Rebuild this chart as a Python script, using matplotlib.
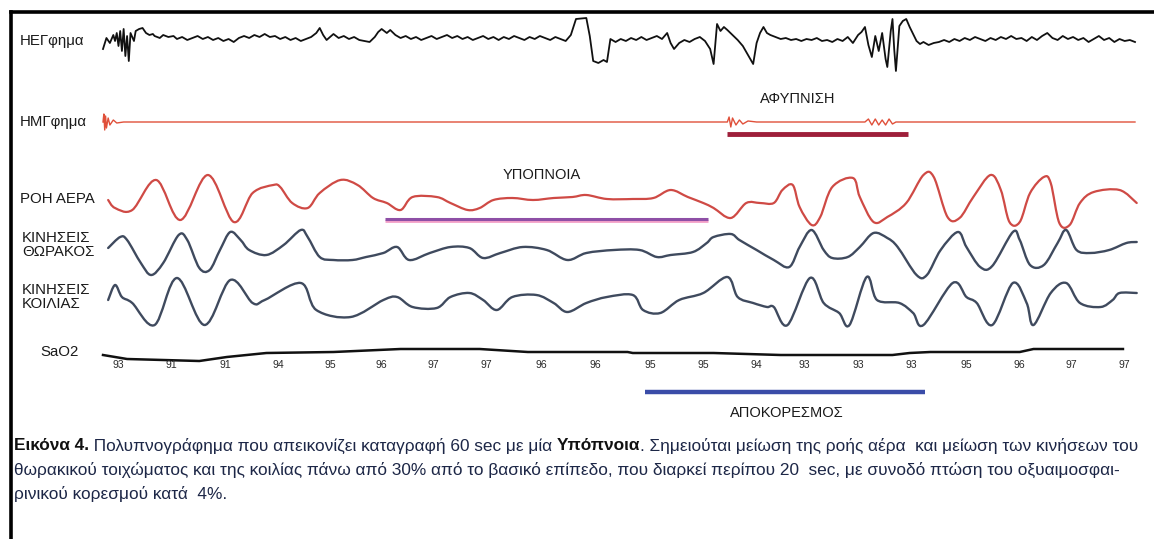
import numpy as np
import matplotlib
matplotlib.use("Agg")
import matplotlib.pyplot as plt
from matplotlib.path import Path
from matplotlib.patches import PathPatch

# ---------------- DATA (time in seconds, amplitude in arbitrary units) ----------------
eeg_t = [0.0, 0.2, 0.4, 0.6, 0.7, 0.8, 0.9, 1.0, 1.1, 1.2, 1.3, 1.4, 1.5, 1.6, 1.8, 1.9, 2.1, 2.3, 2.5, 2.7, 2.9,
         3.0, 3.3, 3.5, 3.8, 4.1, 4.3, 4.6, 4.9, 5.2, 5.5, 5.8, 6.1, 6.4, 6.7, 7.0, 7.3, 7.6, 7.9, 8.2, 8.5, 8.8,
         9.1, 9.4, 9.7, 10.0, 10.3, 10.6, 10.9, 11.2, 11.5, 11.8, 12.1, 12.4, 12.6, 12.8, 13.0, 13.2, 13.4, 13.7,
         14.0, 14.3, 14.6, 14.9, 15.2, 15.5, 15.8, 16.0, 16.2, 16.5, 16.7, 17.0, 17.3, 17.6, 17.9, 18.2, 18.5,
         18.8, 19.1, 19.4, 19.7, 20.0, 20.3, 20.6, 20.9, 21.2, 21.5, 21.8, 22.1, 22.4, 22.7, 23.0, 23.3, 23.6,
         23.9, 24.2, 24.5, 24.8, 25.1, 25.4, 25.7, 26.0, 26.3, 26.6, 26.9, 27.2,
         27.5, 28.1, 28.3, 28.5, 28.8, 29.1, 29.3, 29.5,
         29.8, 30.1, 30.4, 30.7, 31.0, 31.3, 31.6, 31.9, 32.2, 32.5, 32.8, 33.0, 33.2, 33.5, 33.8, 34.1, 34.4,
         34.7, 35.0, 35.3, 35.5, 35.7, 35.9, 36.1, 36.3, 36.6, 36.9, 37.2, 37.5, 37.8, 38.0, 38.2, 38.4, 38.6,
         38.8, 39.1, 39.4, 39.7, 40.0, 40.3, 40.6, 40.9, 41.2, 41.5, 41.8, 42.1, 42.4, 42.7, 43.0, 43.3, 43.6,
         43.9, 44.1, 44.3, 44.5, 44.7, 44.9, 45.1, 45.3, 45.5, 45.6, 45.8, 45.9, 46.0, 46.1, 46.3, 46.5, 46.7,
         46.9, 47.1, 47.3, 47.5, 47.7, 48.0, 48.3, 48.6, 48.9, 49.2, 49.5, 49.8, 50.1, 50.4, 50.7, 51.0, 51.3,
         51.6, 51.9, 52.2, 52.5, 52.8, 53.1, 53.4, 53.7, 54.0, 54.3, 54.6, 54.9, 55.2, 55.5, 55.8, 56.1, 56.4,
         56.7, 57.0, 57.3, 57.6, 57.9, 58.2, 58.5, 58.8, 59.1, 59.4, 59.7, 60.0]
eeg_v = [-8, 3, -2, 6, 0, 8, -5, 10, -10, 12, -15, 5, -20, 8, 0, 10, 12, 13, 8, 6, 7,
         5, 3, 6, 4, 5, 2, 4, 1, 3, 5, 2, 4, 1, 3, 0, 2, -1, 3, 5, 3, 6,
         4, 7, 4, 5, 2, 4, 1, 3, 0, 2, 4, 8, 13, 6, 1, 4, 7, 3,
         5, 2, 4, 1, 0, -1, 4, 9, 12, 8, 11, 6, 3, 5, 2, 4, 1,
         3, 5, 2, 4, 6, 3, 5, 2, 4, 1, 3, 5, 2, 4, 1, 4, 2,
         5, 3, 1, 4, 2, 5, 3, 1, 4, 2, 0, 6,
         22, 23, 5, -20, -22, -19, -21, 2,
         -1, 2, 0, 3, 1, 4, 1, 3, 5, 2, 8, -2, -8, -2, 1, -1, 2,
         4, 0, -8, -23, 17, 10, 14, 11, 6, 1, -5, -14, -23, -2, 8, 14, 8,
         6, 4, 2, 3, 1, 2, 0, 2, 1, 3, 0, 1, -1, 2, 0, 4, -2,
         6, 9, 14, -4, -16, 5, -10, 8, -18, -26, 10, 22, -8, -30, 15, 20, 22,
         14, 7, 0, -3, -1, -4, -2, -1, 1, -1, 2, 0, 3, 1, 4, 2, 0,
         3, 1, 4, 2, 5, 2, 3, 0, 4, 1, 5, 8, 3, 1, 5, 2, 4,
         1, 3, -1, 2, 5, 1, 3, -1, 2, 0, 1, -1]

emg_t = [0.0, 0.05, 0.1, 0.15, 0.2, 0.3, 0.4, 0.6, 0.8, 1.2,
         36.3, 36.4, 36.5, 36.6, 36.8, 37.0, 37.2, 37.5, 38.0,
         44.3, 44.5, 44.7, 44.9, 45.1, 45.3, 45.5, 45.7, 45.9, 46.1, 60.0]
emg_v = [0, 8, -8, 6, -6, 4, -3, 2, -1, 0,
         0, 5, -5, 4, -3, 2, -2, 1, 0,
         0, 3, -3, 3, -3, 2, -3, 3, -2, 0, 0]

flow_t = [0.3, 0.7, 1.7, 3.1, 4.5, 6.1, 7.6, 8.7, 9.9, 10.3, 11.0, 11.9, 12.6, 13.8, 14.8, 15.7, 16.5, 17.3,
          18.0, 19.4, 20.2, 21.2, 21.9, 22.7, 23.8, 25.0, 26.2, 27.3, 28.1, 29.3, 30.8, 32.0, 33.0, 34.0,
          34.9, 35.5, 36.5, 37.4, 38.2, 39.0, 39.5, 40.1, 40.5, 41.2, 41.7, 42.4, 43.6, 44.0, 44.8, 45.6,
          46.7, 47.7, 48.3, 49.1, 49.8, 50.6, 51.6, 52.2, 52.7, 53.3, 53.9, 54.7, 55.1, 55.6, 56.2, 56.8,
          57.6, 59.1, 60.1]
flow_v = [0, -8, -10, 20, -20, 25, -22, 7, 15, 13, -3, -8, 7, 20, 15, 2, -3, -10,
          3, 3, -3, -10, -8, 0, 2, 0, 2, 3, 5, 1, 1, 2, 10, 3,
          -3, -8, -18, -3, -3, -3, 10, 15, -7, -25, -17, 13, 22, 3, -22, -17,
          -3, 25, 23, -17, -18, 3, 25, 10, -22, -22, 7, 23, 17, -23, -25, -3,
          8, 10, -3]

thorax_t = [0.3, 1.0, 1.4, 2.2, 2.8, 3.5, 4.4, 4.9, 5.6, 6.2, 6.8, 7.4, 8.0, 8.5, 9.5, 10.5, 11.5, 11.9,
            12.6, 13.4, 14.5, 15.3, 16.3, 17.1, 17.8, 19.0, 20.2, 21.3, 22.1, 23.1, 24.4, 25.8, 27.0, 28.1,
            29.7, 31.2, 32.2, 33.0, 34.3, 35.1, 35.5, 36.5, 37.0, 38.0, 39.0, 39.9, 40.5, 41.2, 41.9, 42.4,
            43.3, 44.0, 44.8, 45.6, 46.2, 47.3, 47.9, 48.7, 49.7, 50.2, 51.0, 51.7, 52.9, 53.3, 53.9, 54.7,
            55.5, 56.0, 56.6, 57.4, 58.5, 59.5, 60.1]
thorax_v = [2, 13, 10, -13, -25, -13, 15, 10, -18, -20, 0, 18, 10, 0, -5, 5, 20, 13,
            -7, -10, -10, -7, -3, 3, -10, -3, 3, 2, -8, -3, 3, 0, -10, -3,
            0, 0, -7, -5, -2, 7, 13, 16, 10, 0, -10, -17, 3, 20, 0, -8,
            -7, 3, 17, 12, 3, -25, -25, 0, 18, 3, -17, -16, 18, 10, -15, -15,
            7, 20, 0, -3, 0, 7, 8]

abdomen_t = [0.3, 0.7, 1.1, 1.7, 3.0, 4.3, 5.9, 7.4, 8.7, 9.4, 11.5, 12.4, 14.4, 16.3, 17.1, 18.0, 19.4, 20.2,
             21.3, 22.1, 22.9, 23.8, 25.2, 26.2, 27.0, 28.1, 29.3, 30.8, 31.4, 32.4, 33.5, 34.9, 36.3, 36.9,
             37.8, 38.6, 39.0, 39.8, 41.1, 41.9, 42.8, 43.4, 44.4, 45.0, 46.3, 47.1, 47.7, 49.4, 50.2, 50.8,
             51.7, 52.9, 53.7, 54.1, 55.1, 56.0, 56.8, 58.0, 58.7, 59.1, 60.1]
abdomen_v = [0, 15, 3, -3, -25, 22, -25, 20, -3, 0, 17, -10, -17, 0, 3, -7, -8, 3,
             7, 0, -10, 3, 5, -3, -12, -3, 3, 5, -10, -13, 0, 7, 23, 3,
             -3, -7, -7, -25, 22, -3, -13, -25, 23, 0, -3, -13, -25, 17, 3, -3,
             -25, 17, -3, -25, 7, 17, -3, -7, 0, 7, 7]

sao2_t = [0.0, 1.4, 5.6, 7.2, 9.5, 13.4, 17.3, 21.9, 24.7, 30.5, 30.8, 35.5, 39.4, 45.9, 46.9, 48.1, 53.3, 54.1, 59.3]
sao2_v = [0, -4, -6, -2, 2, 3, 6, 6, 3, 3, 2, 2, 0, 0, 2, 3, 3, 6, 6]

sao2_label_t = [0.9, 4.0, 7.1, 10.2, 13.2, 16.2, 19.2, 22.3, 25.5, 28.6, 31.8, 34.9, 38.0, 40.8, 43.9, 47.0,
                50.2, 53.3, 56.3, 59.4]
sao2_labels = ["93", "91", "91", "94", "95", "96", "97", "97", "96", "96", "95", "95", "94", "93", "93", "93",
               "95", "96", "97", "97"]

arousal_span = (36.3, 46.8)
hypopnea_span = (16.4, 35.2)
desat_span = (31.5, 47.8)

channel_labels = ["ΗΕΓφημα", "ΗΜΓφημα", "ΡΟΗ ΑΕΡΑ", "ΚΙΝΗΣΕΙΣ\nΘΩΡΑΚΟΣ", "ΚΙΝΗΣΕΙΣ\nΚΟΙΛΙΑΣ", "SaO2"]
event_labels = ["ΑΦΥΠΝΙΣΗ", "ΥΠΟΠΝΟΙΑ", "ΑΠΟΚΟΡΕΣΜΟΣ"]

caption_lines = [
    [("Εικόνα 4.", "bold", "#111111"),
     (" Πολυπνογράφημα που απεικονίζει καταγραφή 60 sec με μία ", "normal", "#1d2747"),
     ("Υπόπνοια", "bold", "#111111"),
     (". Σημειούται μείωση της ροής αέρα  και μείωση των κινήσεων του", "normal", "#1d2747")],
    [("θωρακικού τοιχώματος και της κοιλίας πάνω από 30% από το βασικό επίπεδο, που διαρκεί περίπου 20  sec, με συνοδό πτώση του οξυαιμοσφαι-", "normal", "#1d2747")],
    [("ρινικού κορεσμού κατά  4%.", "normal", "#1d2747")],
]

# ---------------- LAYOUT ----------------
W, H = 1154, 539
fig = plt.figure(figsize=(W / 100, H / 100), dpi=100)
fig.patch.set_facecolor("white")
PX_PER_S = 17.2
X0 = 103
ax = fig.add_axes([0, 0, 1, 1])
ax.set_xlim(-X0 / PX_PER_S, (W - X0) / PX_PER_S)
ax.set_ylim(H, 0)
ax.axis("off")

FAM = ["Liberation Sans Narrow", "Liberation Sans", "DejaVu Sans"]

def fx(x):
    return x / W

def fy(y):
    return 1 - y / H

# frame
fig.add_artist(plt.Line2D([fx(11.5), fx(11.5)], [0, fy(11.5)], color="black", lw=2.6, solid_capstyle="projecting"))
fig.add_artist(plt.Line2D([fx(11.5), 1], [fy(11.5), fy(11.5)], color="black", lw=2.6, solid_capstyle="projecting"))

base = {"eeg": 41, "emg": 122, "flow": 200, "thorax": 250, "abd": 300, "sao2": 355}

def trace(t, v, b, **kw):
    ax.plot(np.asarray(t), b - np.asarray(v, dtype=float), solid_joinstyle="round", **kw)

def smooth_trace(t, v, b, color, lw):
    # Catmull-Rom style rendering of the read points as cubic Bezier segments
    x = np.asarray(t, dtype=float)
    y = b - np.asarray(v, dtype=float)
    P = np.column_stack([x, y])
    n = len(P)
    verts = [P[0]]
    codes = [Path.MOVETO]
    for i in range(n - 1):
        p0 = P[i - 1] if i > 0 else P[i]
        p1, p2 = P[i], P[i + 1]
        p3 = P[i + 2] if i + 2 < n else P[i + 1]
        c1 = p1 + (p2 - p0) / 6.0
        c2 = p2 - (p3 - p1) / 6.0
        verts += [c1, c2, p2]
        codes += [Path.CURVE4] * 3
    ax.add_patch(PathPatch(Path(verts, codes), fill=False, edgecolor=color, lw=lw,
                           joinstyle="round", capstyle="round"))

trace(eeg_t, eeg_v, base["eeg"], color="#111111", lw=1.3)
trace(emg_t, emg_v, base["emg"], color="#e0503a", lw=1.0)
smooth_trace(flow_t, flow_v, base["flow"], "#cf4a45", 1.6)
smooth_trace(thorax_t, thorax_v, base["thorax"], "#3f4a5e", 1.7)
smooth_trace(abdomen_t, abdomen_v, base["abd"], "#3f4a5e", 1.7)
trace(sao2_t, sao2_v, base["sao2"], color="#111111", lw=1.8)

# event bars
ax.plot(arousal_span, [134, 134], color="#9e1f3a", lw=3.5, solid_capstyle="butt")
ax.plot(hypopnea_span, [220.5, 220.5], color="#f3a0c8", lw=2.0, solid_capstyle="butt")
ax.plot(hypopnea_span, [219, 219], color="#8e4fa6", lw=2.2, solid_capstyle="butt")
ax.plot(desat_span, [392, 392], color="#3a4ca8", lw=3.2, solid_capstyle="butt")

for t, s in zip(sao2_label_t, sao2_labels):
    ax.text(t, 365, s, ha="center", va="center", fontsize=7.5, color="#2a2a2a", family=FAM)

# channel labels
lab_pos = [(20, 41), (20, 122), (20, 199), (22, 245), (22, 297), (40, 352)]
for (x, y), s in zip(lab_pos, channel_labels):
    fig.text(fx(x), fy(y), s, ha="left", va="center", fontsize=10.8, color="#1a1a1a",
             family=FAM, linespacing=1.0)

fig.text(fx(798), fy(99), event_labels[0], ha="center", va="center", fontsize=10.5, color="#1a1a1a", family=FAM)
fig.text(fx(542), fy(175), event_labels[1], ha="center", va="center", fontsize=10.5, color="#1a1a1a", family=FAM)
fig.text(fx(787), fy(413), event_labels[2], ha="center", va="center", fontsize=10.5, color="#1a1a1a", family=FAM)

# caption with mixed weights
renderer = fig.canvas.get_renderer()

def line_width(pieces, size):
    tot = 0
    for s, wgt, c in pieces:
        t = fig.text(0, 0, s, fontsize=size, fontweight=wgt, family=FAM)
        tot += t.get_window_extent(renderer).width
        t.remove()
    return tot

size = 12.0
w1 = line_width(caption_lines[0], size)
size = size * 1122 / w1
ys = [446, 470, 494]
for pieces, y in zip(caption_lines, ys):
    x = 14
    for s, wgt, c in pieces:
        t = fig.text(fx(x), fy(y), s, ha="left", va="center", fontsize=size, fontweight=wgt,
                     color=c, family=FAM)
        x += t.get_window_extent(renderer).width

fig.savefig("out.png", dpi=100, facecolor="white")
